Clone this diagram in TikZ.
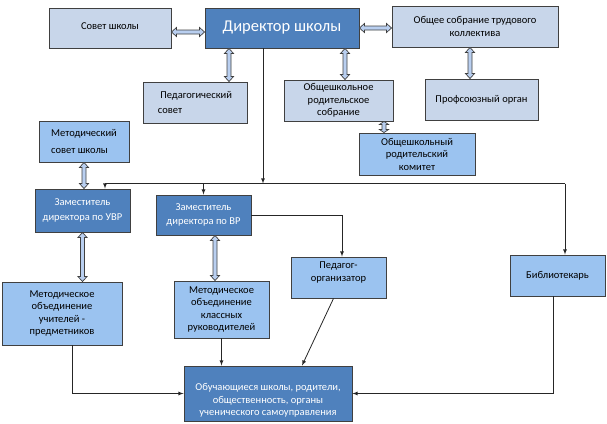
\documentclass[tikz,border=0pt]{standalone}
\usepackage{fontspec}
\setmainfont{Carlito}
\usetikzlibrary{shapes,arrows,calc}
\definecolor{paleblue}{RGB}{200,214,234}
\definecolor{midblue}{RGB}{155,195,240}
\definecolor{darkblue}{RGB}{79,129,189}
\definecolor{arrfill}{RGB}{185,207,240}
\tikzstyle{pale}=[rectangle,draw=black!75,line width=0.9pt,fill=paleblue,align=center,inner sep=1pt,font=\fontsize{10.5}{12.5}\selectfont]
\tikzstyle{mid}=[pale,fill=midblue]
\tikzstyle{dark}=[pale,fill=darkblue,text=white]
\tikzstyle{dbl}=[draw=black!75,line width=0.7pt,fill=arrfill,line join=miter]
\tikzstyle{arr}=[->,>=latex,line width=0.8pt,draw=black!85]
% hollow two-way arrow between two points, #1 = head length
\newcommand{\twoway}[3][5pt]{\draw[dbl] (#2) -- ($(#2)!#1!(#3)!4.5pt!90:(#3)$) -- ($(#2)!#1!(#3)!2pt!90:(#3)$) -- ($(#3)!#1!(#2)!2pt!-90:(#2)$) -- ($(#3)!#1!(#2)!4.5pt!-90:(#2)$) -- (#3) -- ($(#3)!#1!(#2)!4.5pt!90:(#2)$) -- ($(#3)!#1!(#2)!2pt!90:(#2)$) -- ($(#2)!#1!(#3)!2pt!-90:(#3)$) -- ($(#2)!#1!(#3)!4.5pt!-90:(#3)$) -- cycle;}

\begin{document}
\begin{tikzpicture}[x=1pt,y=-1pt]
\useasboundingbox (0,0) rectangle (607,423);
% top row
\node (sovet) [pale,minimum width=122pt,minimum height=40pt] at (110,28) {\raisebox{3pt}{Совет школы}};
\node (dir) [dark,minimum width=154pt,minimum height=40pt,font=\fontsize{16.5}{19}\selectfont] at (282,28) {Директор школы};
\node (sobr) [pale,minimum width=166pt,minimum height=41pt] at (475,26.5) {Общее собрание трудового\\коллектива};
% second row
\node (pedsov) [pale,align=left,minimum width=104pt,minimum height=41pt] at (195,102.5) {~Педагогический\\[3pt]совет};
\node (rodsobr) [pale,minimum width=109pt,minimum height=41pt] at (338.5,100.5) {Общешкольное\\родительское\\собрание};
\node (prof) [pale,minimum width=113pt,minimum height=41pt] at (481.5,99.5) {Профсоюзный орган};
\node (komitet) [mid,minimum width=116pt,minimum height=42pt] at (417,154) {Общешкольный\\родительский\\комитет};
\node (metsov) [mid,align=left,minimum width=90pt,minimum height=41pt] at (84,141.5) {Методический\\[4pt]совет школы};
% deputies
\node (uvr) [dark,minimum width=95pt,minimum height=43pt] at (82.5,210.5) {Заместитель\\[2pt]директора по УВР};
\node (vr) [dark,minimum width=95pt,minimum height=40pt] at (203.5,215) {Заместитель\\[2pt]директора по ВР};
\node (pedorg) [mid,minimum width=95pt,minimum height=41pt] at (338.5,277.5) {Педагог-\\организатор\rule[-12pt]{0pt}{1pt}};
\node (bib) [mid,minimum width=95pt,minimum height=41pt] at (557.5,275.5) {Библиотекарь};
\node (mou) [mid,minimum width=120pt,minimum height=63pt] at (62,313.5) {Методическое\\объединение\\учителей -\\предметников};
\node (mok) [mid,minimum width=95pt,minimum height=57pt] at (221.5,309.5) {Методическое\\объединение\\классных\\руководителей};
\node (ob) [dark,minimum width=168pt,minimum height=55pt] at (268,393.5) {\rule{0pt}{21pt}Обучающиеся школы, родители,\\общественность, органы\\ученического самоуправления};
% two-way links
\coordinate (sd) at ([yshift=-4pt]sovet.east);
\coordinate (ps) at ([xshift=34pt]pedsov.north);
\coordinate (rs) at ([xshift=6.5pt]rodsobr.north);
\coordinate (pf) at ([xshift=-11.5pt]prof.north);
\coordinate (km) at ([xshift=-33pt]komitet.north);
\coordinate (mk) at ([xshift=11.5pt]vr.south);
\twoway{sd}{sd -| dir.west}
\twoway{dir.east}{dir.east -| sobr.west}
\twoway{ps |- dir.south}{ps}
\twoway{rs |- dir.south}{rs}
\twoway{pf |- sobr.south}{pf}
\twoway[3pt]{km |- rodsobr.south}{km}
\twoway{metsov.south}{metsov.south |- uvr.north}
\twoway{uvr.south}{uvr.south |- mou.north}
\twoway{mk}{mk |- mok.north}
% subordination lines
\coordinate (busl) at (105,183.5);
\coordinate (busr) at (565,183.5);
\coordinate (hub) at (263,183.5);
\draw [line width=0.8pt,black!85] (busl) -- (busr);
\draw [arr] (hub |- dir.south) -- (hub);
\draw [arr] (busl) -- (busl |- uvr.north);
\draw [arr] (vr.north |- busl) -- (vr.north);
\draw [arr] (busr) -- (busr |- bib.north);
\draw [arr] (vr.east) -| ([xshift=3.5pt]pedorg.north);
\draw [arr] ([xshift=10pt]mou.south) |- (ob.west);
\draw [arr] (mok.south) -- (mok.south |- ob.north);
\draw [arr] ([xshift=-5pt]pedorg.south) -- ([xshift=34pt]ob.north);
\draw [arr] ([xshift=-4pt]bib.south) |- (ob.east);
\end{tikzpicture}
\end{document}
